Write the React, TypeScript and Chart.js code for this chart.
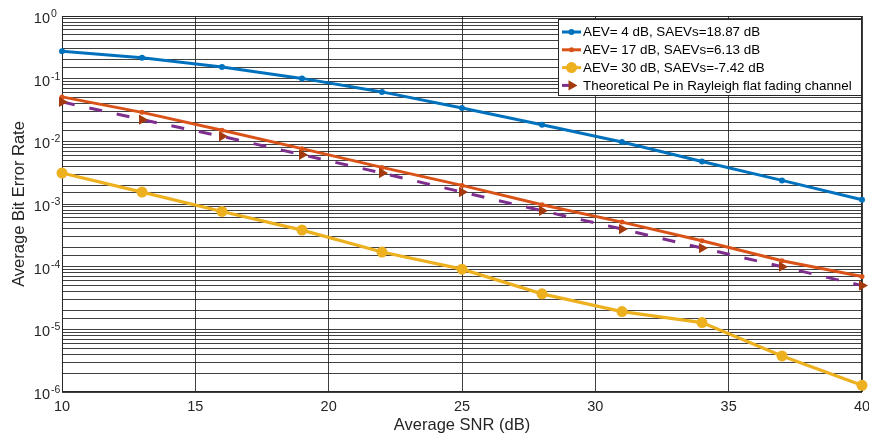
import React, { useEffect, useRef } from 'react';
import { Chart, registerables } from 'chart.js';

Chart.register(...registerables);

// ---------- data ----------
const snrDb = [10, 13, 16, 19, 22, 25, 28, 31, 34, 37, 40];
const berAev4 = [0.274, 0.215, 0.154, 0.101, 0.0615, 0.0341, 0.01845, 0.00977, 0.00478, 0.00238, 0.00117];
const berAev17 = [0.0512, 0.029, 0.015, 0.00764, 0.00384, 0.00198, 0.000972, 0.000514, 0.000259, 0.000124, 0.0000695];
const berAev30 = [0.00312, 0.00155, 0.00076, 0.000383, 0.000171, 0.0000912, 0.0000368, 0.0000192, 0.0000128, 0.00000376, 0.00000128];
const berTheory = [0.0426, 0.0222, 0.012, 0.00612, 0.00312, 0.00155, 0.00078, 0.000398, 0.000198, 0.0001, 0.0000499];
const seriesLabels = [
  'AEV= 4 dB, SAEVs=18.87 dB',
  'AEV= 17 dB, SAEVs=6.13 dB',
  'AEV= 30 dB, SAEVs=-7.42 dB',
  'Theoretical Pe in Rayleigh flat fading channel',
];
const xTitle = 'Average SNR (dB)';
const yTitle = 'Average Bit Error Rate';
const xMin = 10;
const xMax = 40;
const xStep = 5;
const yMin = 1e-6;
const yMax = 1;
const yTickBase = '10';

// ---------- styles ----------
const FONT = '"Liberation Sans", Arial, Helvetica, sans-serif';
const TEXT = '#262626';
const GRID = 'rgba(30,30,30,0.85)';
const BLUE = '#0072BD';
const ORANGE = '#D95319';
const YELLOW = '#EDB120';
const PURPLE = '#7E2F8E';
const TRI = '#A23A0E';

const isDecade = (v: number) => {
  const lv = Math.log10(v);
  return Math.abs(lv - Math.round(lv)) < 1e-6;
};

const toPts = (ys: number[]) => snrDb.map((x, i) => ({ x, y: ys[i] }));

const framePlugin = {
  id: 'frame',
  beforeDatasetsDraw(chart: any) {
    const { ctx, chartArea: a } = chart;
    ctx.save();
    ctx.strokeStyle = TEXT;
    ctx.lineWidth = 1;
    ctx.strokeRect(Math.round(a.left) + 0.5, Math.round(a.top) + 0.5, Math.round(a.right - a.left) - 1, Math.round(a.bottom - a.top) - 1);
    ctx.restore();
  },
};

// exponent part of the "10^n" y tick labels
const exponentPlugin = {
  id: 'exponents',
  afterDraw(chart: any) {
    const { ctx } = chart;
    const y = chart.scales.y;
    ctx.save();
    ctx.font = `10.5px ${FONT}`;
    ctx.fillStyle = TEXT;
    ctx.textAlign = 'left';
    ctx.textBaseline = 'middle';
    y.ticks.forEach((t: any) => {
      if (!isDecade(t.value)) return;
      const e = Math.round(Math.log10(t.value));
      const py = y.getPixelForValue(t.value);
      ctx.fillText(String(e), y.right - 11, py - 2);
    });
    ctx.restore();
  },
};

const drawMarker = (ctx: CanvasRenderingContext2D, kind: string, x: number, y: number, r: number, color: string) => {
  ctx.fillStyle = color;
  ctx.beginPath();
  if (kind === 'tri') {
    ctx.moveTo(x + r, y);
    ctx.lineTo(x - r * 0.5, y - r * 0.866);
    ctx.lineTo(x - r * 0.5, y + r * 0.866);
    ctx.closePath();
  } else {
    ctx.arc(x, y, r, 0, Math.PI * 2);
  }
  ctx.fill();
};

const legendPlugin = {
  id: 'boxLegend',
  afterDraw(chart: any) {
    const { ctx, chartArea: a } = chart;
    const styles = [
      { color: BLUE, marker: 'dot', r: 3, dash: false, mColor: BLUE },
      { color: ORANGE, marker: 'dot', r: 2.5, dash: false, mColor: ORANGE },
      { color: YELLOW, marker: 'dot', r: 5.5, dash: false, mColor: YELLOW },
      { color: PURPLE, marker: 'tri', r: 6, dash: true, mColor: TRI },
    ];
    ctx.save();
    ctx.font = `13.4px ${FONT}`;
    const labels = chart.data.datasets.map((d: any) => d.label);
    let maxW = 0;
    labels.forEach((l: string) => { maxW = Math.max(maxW, ctx.measureText(l).width); });
    const boxW = Math.round(25 + maxW + 10);
    const boxH = 77;
    const right = Math.round(a.right);
    const left = right - boxW;
    const top = Math.round(a.top) + 3;
    ctx.fillStyle = '#ffffff';
    ctx.fillRect(left, top, boxW, boxH);
    ctx.strokeStyle = TEXT;
    ctx.lineWidth = 1;
    ctx.strokeRect(left + 0.5, top + 0.5, boxW - 1, boxH - 1);
    labels.forEach((l: string, i: number) => {
      const s = styles[i];
      const cy = top + 13 + i * 17.8;
      const lx0 = left + 4;
      const lx1 = left + 23;
      const mx = (lx0 + lx1) / 2;
      ctx.strokeStyle = s.color;
      ctx.lineWidth = 3;
      ctx.beginPath();
      ctx.moveTo(lx0, cy);
      ctx.lineTo(s.dash ? mx : lx1, cy);
      ctx.stroke();
      drawMarker(ctx, s.marker, mx, cy, s.r, s.mColor);
      ctx.fillStyle = '#000000';
      ctx.textAlign = 'left';
      ctx.textBaseline = 'middle';
      ctx.fillText(l, left + 25, cy + 0.5);
    });
    ctx.restore();
  },
};

export default function App() {
  const ref = useRef<HTMLCanvasElement | null>(null);

  useEffect(() => {
    document.body.style.margin = '0';
    const canvas = ref.current;
    if (!canvas) return;
    const chart = new Chart(canvas, {
      type: 'line',
      data: {
        datasets: [
          {
            label: seriesLabels[0],
            data: toPts(berAev4),
            borderColor: BLUE,
            backgroundColor: BLUE,
            borderWidth: 3,
            pointRadius: 3,
            pointStyle: 'circle',
            pointBorderWidth: 0,
            order: 4,
          },
          {
            label: seriesLabels[1],
            data: toPts(berAev17),
            borderColor: ORANGE,
            backgroundColor: ORANGE,
            borderWidth: 3,
            pointRadius: 2.5,
            pointStyle: 'circle',
            pointBorderWidth: 0,
            order: 3,
          },
          {
            label: seriesLabels[2],
            data: toPts(berAev30),
            borderColor: YELLOW,
            backgroundColor: YELLOW,
            borderWidth: 3.2,
            pointRadius: 5.5,
            pointStyle: 'circle',
            pointBorderWidth: 0,
            order: 2,
          },
          {
            label: seriesLabels[3],
            data: toPts(berTheory),
            borderColor: PURPLE,
            backgroundColor: TRI,
            pointBackgroundColor: TRI,
            pointBorderColor: TRI,
            borderWidth: 3,
            borderDash: [13, 15],
            pointRadius: 6,
            pointStyle: 'triangle',
            pointRotation: 90,
            pointBorderWidth: 0,
            order: 1,
          },
        ] as any,
      },
      options: {
        animation: false,
        responsive: false,
        clip: false as any,
        elements: { line: { tension: 0, fill: false } },
        layout: { padding: { left: 0, right: 7, top: 16, bottom: 0 } },
        plugins: {
          legend: { display: false },
          tooltip: { enabled: false },
          title: { display: false },
        },
        scales: {
          x: {
            type: 'linear',
            min: xMin,
            max: xMax,
            ticks: {
              stepSize: xStep,
              color: TEXT,
              font: { family: FONT, size: 14.5 },
              padding: 6,
              maxRotation: 0,
              autoSkip: false,
            },
            grid: { color: GRID, lineWidth: 1, drawTicks: false },
            border: { display: false },
            title: {
              display: true,
              text: xTitle,
              color: TEXT,
              font: { family: FONT, size: 16.5 },
              padding: { top: 0, bottom: 2 },
            },
            afterFit: (s: any) => {
              s.height = 45;
              s.paddingLeft = 0;
              s.paddingRight = 0;
            },
          },
          y: {
            type: 'logarithmic',
            min: yMin,
            max: yMax,
            ticks: {
              color: TEXT,
              font: { family: FONT, size: 14.5 },
              padding: 12,
              labelOffset: 3,
              autoSkip: false,
              callback: (v: any) => (isDecade(Number(v)) ? yTickBase : ''),
            },
            grid: { color: GRID, lineWidth: 1, drawTicks: false },
            border: { display: false },
            title: {
              display: true,
              text: yTitle,
              color: TEXT,
              font: { family: FONT, size: 16.5 },
              padding: { top: 10, bottom: 0 },
            },
            afterFit: (s: any) => {
              s.width = 62;
              s.paddingTop = 0;
              s.paddingBottom = 0;
            },
          },
        },
      } as any,
      plugins: [framePlugin, legendPlugin, exponentPlugin],
    });
    return () => chart.destroy();
  }, []);

  return (
    <div style={{ position: 'absolute', left: 0, top: 0, width: 869, height: 437, background: '#fff' }}>
      <canvas ref={ref} width={869} height={437} style={{ display: 'block' }} />
    </div>
  );
}
